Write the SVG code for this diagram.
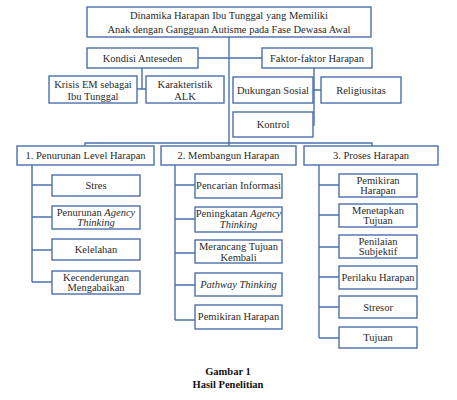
<svg xmlns="http://www.w3.org/2000/svg" width="457" height="400" viewBox="0 0 457 400">
<style>
.b{fill:#fff;stroke:#4a70ad;stroke-width:1.4}
.c{fill:none;stroke:#4a70ad;stroke-width:1.4}
text{font-family:"Liberation Serif","DejaVu Serif",serif;font-size:10.5px;fill:#2a2a2a;text-anchor:middle}
.i{font-style:italic}
.cap{font-weight:bold;font-size:10.5px;fill:#111}
</style>
<rect width="457" height="400" fill="#fff"/>
<g id="connectors">
<path class="c" d="M229,37V146"/>
<path class="c" d="M198,58H262"/>
<path class="c" d="M142,68V89M137,89H146"/>
<path class="c" d="M314,68V125H313M313,90H321"/>
<path class="c" d="M85,146V143H372V146"/>
<path class="c" d="M32,165V282M32,185H52M32,217H52M32,250H52M32,282H52"/>
<path class="c" d="M175,165V320M175,185H195M175,219H195M175,253H195M175,285H195M175,320H195"/>
<path class="c" d="M319,165V338M319,185H339M319,215H339M319,247H339M319,277H339M319,307H339M319,338H339"/>
</g>
<g id="title"><rect class="b" x="87" y="7" width="284" height="30"/><text x="229" y="18.5">Dinamika Harapan Ibu Tunggal yang Memiliki</text><text x="229" y="32.5">Anak dengan Gangguan Autisme pada Fase Dewasa Awal</text></g>
<g id="kondisi"><rect class="b" x="87" y="48" width="111" height="20"/><text x="142.5" y="61.8">Kondisi Anteseden</text></g>
<g id="faktor"><rect class="b" x="262" y="48" width="110" height="20"/><text x="317" y="61.8">Faktor-faktor Harapan</text></g>
<g id="krisis"><rect class="b" x="49" y="76" width="88" height="27"/><text x="93" y="88">Krisis EM sebagai</text><text x="93" y="100">Ibu Tunggal</text></g>
<g id="karakteristik"><rect class="b" x="146" y="76" width="78" height="27"/><text x="185" y="88">Karakteristik</text><text x="185" y="100">ALK</text></g>
<g id="dukungan"><rect class="b" x="233" y="77" width="80" height="26"/><text x="273" y="93.8">Dukungan Sosial</text></g>
<g id="religiusitas"><rect class="b" x="321" y="77" width="80" height="26"/><text x="361" y="93.8">Religiusitas</text></g>
<g id="kontrol"><rect class="b" x="233" y="112" width="80" height="25"/><text x="273" y="127.8">Kontrol</text></g>
<g id="p1"><rect class="b" x="17" y="146" width="137" height="19"/><text x="85.5" y="159.3">1. Penurunan Level Harapan</text></g>
<g id="p2"><rect class="b" x="161" y="146" width="135" height="19"/><text x="228.5" y="159.3">2. Membangun Harapan</text></g>
<g id="p3"><rect class="b" x="304" y="146" width="134" height="19"/><text x="371" y="159.3">3. Proses Harapan</text></g>
<g id="stres"><rect class="b" x="52" y="175" width="88" height="21"/><text x="96" y="189.3">Stres</text></g>
<g id="penurunan-agency"><rect class="b" x="52" y="206" width="88" height="23"/><text x="96" y="215.8">Penurunan <tspan class="i">Agency</tspan></text><text x="96" y="226.3" class="i">Thinking</text></g>
<g id="kelelahan"><rect class="b" x="52" y="239" width="88" height="21"/><text x="96" y="253.3">Kelelahan</text></g>
<g id="kecenderungan"><rect class="b" x="52" y="271" width="88" height="23"/><text x="96" y="280.8">Kecenderungan</text><text x="96" y="291.3">Mengabaikan</text></g>
<g id="pencarian"><rect class="b" x="195" y="174" width="87" height="24"/><text x="238.5" y="189.3">Pencarian Informasi</text></g>
<g id="peningkatan"><rect class="b" x="195" y="207" width="87" height="25"/><text x="238.5" y="217.3">Peningkatan <tspan class="i">Agency</tspan></text><text x="238.5" y="228.3" class="i">Thinking</text></g>
<g id="merancang"><rect class="b" x="195" y="240" width="87" height="23"/><text x="238.5" y="250.3">Merancang Tujuan</text><text x="238.5" y="260.8">Kembali</text></g>
<g id="pathway"><rect class="b" x="195" y="273" width="87" height="23"/><text x="238.5" y="288.3" class="i">Pathway Thinking</text></g>
<g id="pemikiran2"><rect class="b" x="195" y="305" width="87" height="24"/><text x="238.5" y="320.3">Pemikiran Harapan</text></g>
<g id="pemikiran3"><rect class="b" x="339" y="174" width="78" height="23"/><text x="378" y="183.8">Pemikiran</text><text x="378" y="194.3">Harapan</text></g>
<g id="menetapkan"><rect class="b" x="339" y="204" width="78" height="23"/><text x="378" y="213.8">Menetapkan</text><text x="378" y="224.3">Tujuan</text></g>
<g id="penilaian"><rect class="b" x="339" y="235" width="78" height="23"/><text x="378" y="244.8">Penilaian</text><text x="378" y="255.3">Subjektif</text></g>
<g id="perilaku"><rect class="b" x="339" y="266" width="78" height="23"/><text x="378" y="281.3">Perilaku Harapan</text></g>
<g id="stresor"><rect class="b" x="339" y="296" width="78" height="22"/><text x="378" y="310.8">Stresor</text></g>
<g id="tujuan"><rect class="b" x="339" y="327" width="78" height="21"/><text x="378" y="341.3">Tujuan</text></g>
<g id="caption"><text class="cap" x="228" y="375">Gambar 1</text><text class="cap" x="228" y="388">Hasil Penelitian</text></g>
</svg>
